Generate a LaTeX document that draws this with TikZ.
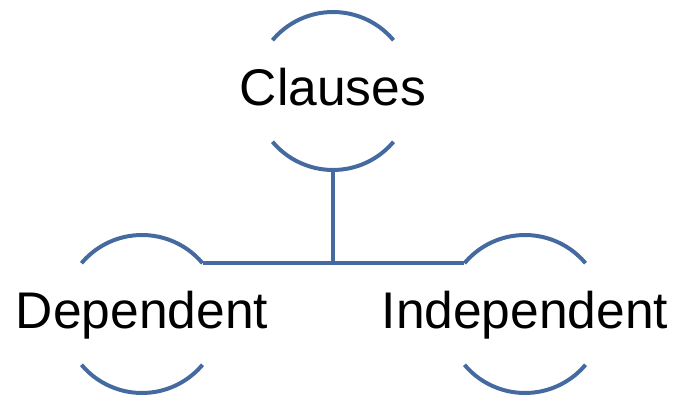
\documentclass[tikz,border=0pt]{standalone}
\usepackage{fontspec}
\setmainfont{Liberation Sans}
\definecolor{rimblue}{RGB}{68,106,160}

\begin{document}
\begin{tikzpicture}[
  x=0.03cm, y=0.03cm,
  every node/.style={inner sep=0pt},
  word/.style={font=\fontsize{44}{50}\selectfont, text height=33pt, text depth=9pt},
  rim/.style={draw=rimblue, line width=3.4pt},
  link/.style={draw=rimblue, line width=3.4pt}]

  \useasboundingbox (0,0) rectangle (677,396);

  % words
  \node[word] (cl)  at (333,305) {Clauses};
  \node[word] (dep) at (142,82)  {Dependent};
  \node[word] (ind) at (525,82)  {Independent};

  % top and bottom arcs of each circle
  \foreach \n in {cl,dep,ind} {
    \coordinate (\n-ne) at ([shift={(40:79)}]\n.center);
    \coordinate (\n-nw) at ([shift={(140:79)}]\n.center);
    \coordinate (\n-s)  at ([shift={(270:79)}]\n.center);
    \draw[rim] (\n-ne) arc[start angle=40, end angle=140, radius=79];
    \draw[rim] ([shift={(220:79)}]\n.center) arc[start angle=220, end angle=320, radius=79];
  }

  % links
  \draw[link] (dep-ne) -- (ind-nw);
  \draw[link] (cl-s) -- (cl-s |- dep-ne);
\end{tikzpicture}
\end{document}
